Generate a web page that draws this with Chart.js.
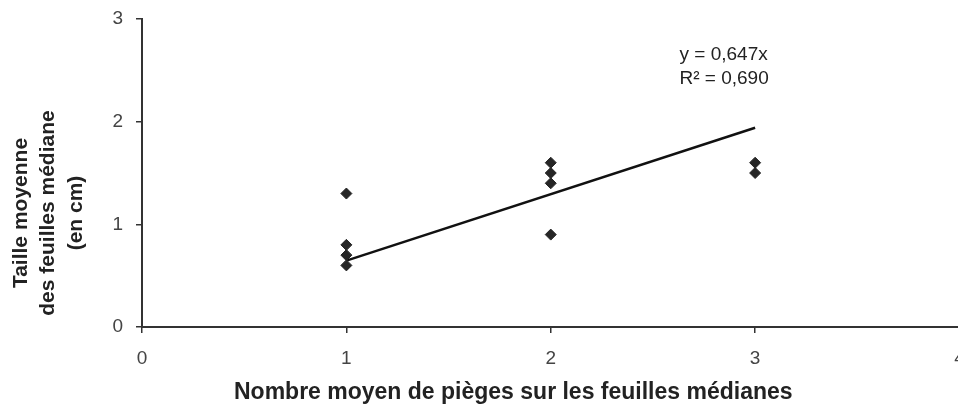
<!DOCTYPE html>
<html>
<head>
<meta charset="utf-8">
<script src="https://cdn.jsdelivr.net/npm/chart.js@4.4.1/dist/chart.umd.min.js"></script>
<style>
    html, body { margin: 0; padding: 0; background: #fff; overflow: hidden; }
    #wrap { width: 966px; height: 409px; }
</style>
</head>
<body>
<div id="wrap"><canvas id="trapsChart" width="966" height="409"></canvas></div>
<script>
// DATA
const pointsX = [1, 1, 1, 1, 2, 2, 2, 2, 3, 3];
const pointsY = [1.3, 0.8, 0.7, 0.6, 1.6, 1.5, 1.4, 0.9, 1.6, 1.5];

const trendX = [1, 3];
const trendY = [0.647, 1.941];

const xTicks = [0, 1, 2, 3, 4];
const yTicks = [0, 1, 2, 3];

const xTitle = 'Nombre moyen de pièges sur les feuilles médianes';
const yTitle = ['Taille moyenne', 'des feuilles médiane', '(en cm)'];
const equation = ['y = 0,647x', 'R² = 0,690'];

const axisColor = '#333';
const tickColor = '#444';
const textFont = '"Liberation Sans", Arial, sans-serif';

// titles and trendline equation
const labelsPlugin = {
    id: 'labels',
    afterDraw: (chart) => {
        const ctx = chart.ctx;
        const x = chart.scales.x;
        const y = chart.scales.y;

        ctx.save();
        ctx.fillStyle = '#222';

        // x title
        ctx.font = 'bold 23px ' + textFont;
        ctx.textAlign = 'left';
        ctx.textBaseline = 'alphabetic';
        ctx.fillText(xTitle, 234, 399);

        // y title, three rotated lines
        ctx.save();
        ctx.translate(0, 213);
        ctx.rotate(-Math.PI / 2);
        ctx.font = 'bold 21px ' + textFont;
        ctx.textAlign = 'center';
        ctx.textBaseline = 'middle';
        const lineX = [21, 48, 76];
        for (let i = 0; i < yTitle.length; i++) {
            ctx.fillText(yTitle[i], 0, lineX[i]);
        }
        ctx.restore();

        // equation
        ctx.font = '19px ' + textFont;
        ctx.textAlign = 'left';
        ctx.textBaseline = 'alphabetic';
        const ex = x.getPixelForValue(2.63);
        ctx.fillText(equation[0], ex, y.getPixelForValue(2.60));
        ctx.fillText(equation[1], ex, y.getPixelForValue(2.37));

        ctx.restore();
    }
};

const scatterData = pointsX.map((v, i) => ({ x: v, y: pointsY[i] }));
const trendData = trendX.map((v, i) => ({ x: v, y: trendY[i] }));

const config = {
    type: 'scatter',
    data: {
        datasets: [
            {
                label: 'Mesures',
                data: scatterData,
                pointStyle: 'rectRot',
                pointRadius: 5.5,
                backgroundColor: '#262626',
                borderColor: '#262626',
                borderWidth: 1,
            },
            {
                label: 'Tendance',
                data: trendData,
                showLine: true,
                pointRadius: 0,
                borderColor: '#111',
                borderWidth: 2.5,
            }
        ]
    },
    options: {
        responsive: false,
        animation: false,
        layout: {
            padding: { top: 19, right: 4, left: 0, bottom: 0 },
        },
        plugins: {
            legend: { display: false },
            tooltip: { enabled: false },
        },
        scales: {
            x: {
                type: 'linear',
                min: 0,
                max: 4,
                afterBuildTicks: (axis) => {
                    axis.ticks = xTicks.map(v => ({ value: v }));
                },
                afterFit: (axis) => {
                    axis.height = 409 - 327;
                    axis.paddingLeft = 0;
                    axis.paddingRight = 0;
                },
                ticks: {
                    padding: 14,
                    color: tickColor,
                    font: { family: textFont, size: 19 },
                },
                grid: {
                    drawOnChartArea: false,
                    drawTicks: true,
                    tickLength: 6,
                    color: axisColor,
                    lineWidth: 1.5,
                },
                border: { display: true, color: axisColor, width: 2 },
            },
            y: {
                type: 'linear',
                min: 0,
                max: 3,
                afterBuildTicks: (axis) => {
                    axis.ticks = yTicks.map(v => ({ value: v }));
                },
                afterFit: (axis) => {
                    axis.width = 142;
                    axis.paddingTop = 0;
                    axis.paddingBottom = 0;
                },
                ticks: {
                    padding: 13,
                    color: tickColor,
                    font: { family: textFont, size: 19 },
                },
                grid: {
                    drawOnChartArea: false,
                    drawTicks: true,
                    tickLength: 6,
                    color: axisColor,
                    lineWidth: 1.5,
                },
                border: { display: true, color: axisColor, width: 2 },
            },
        },
    },
    plugins: [labelsPlugin],
};

new Chart(document.getElementById('trapsChart'), config);
</script>
</body>
</html>
